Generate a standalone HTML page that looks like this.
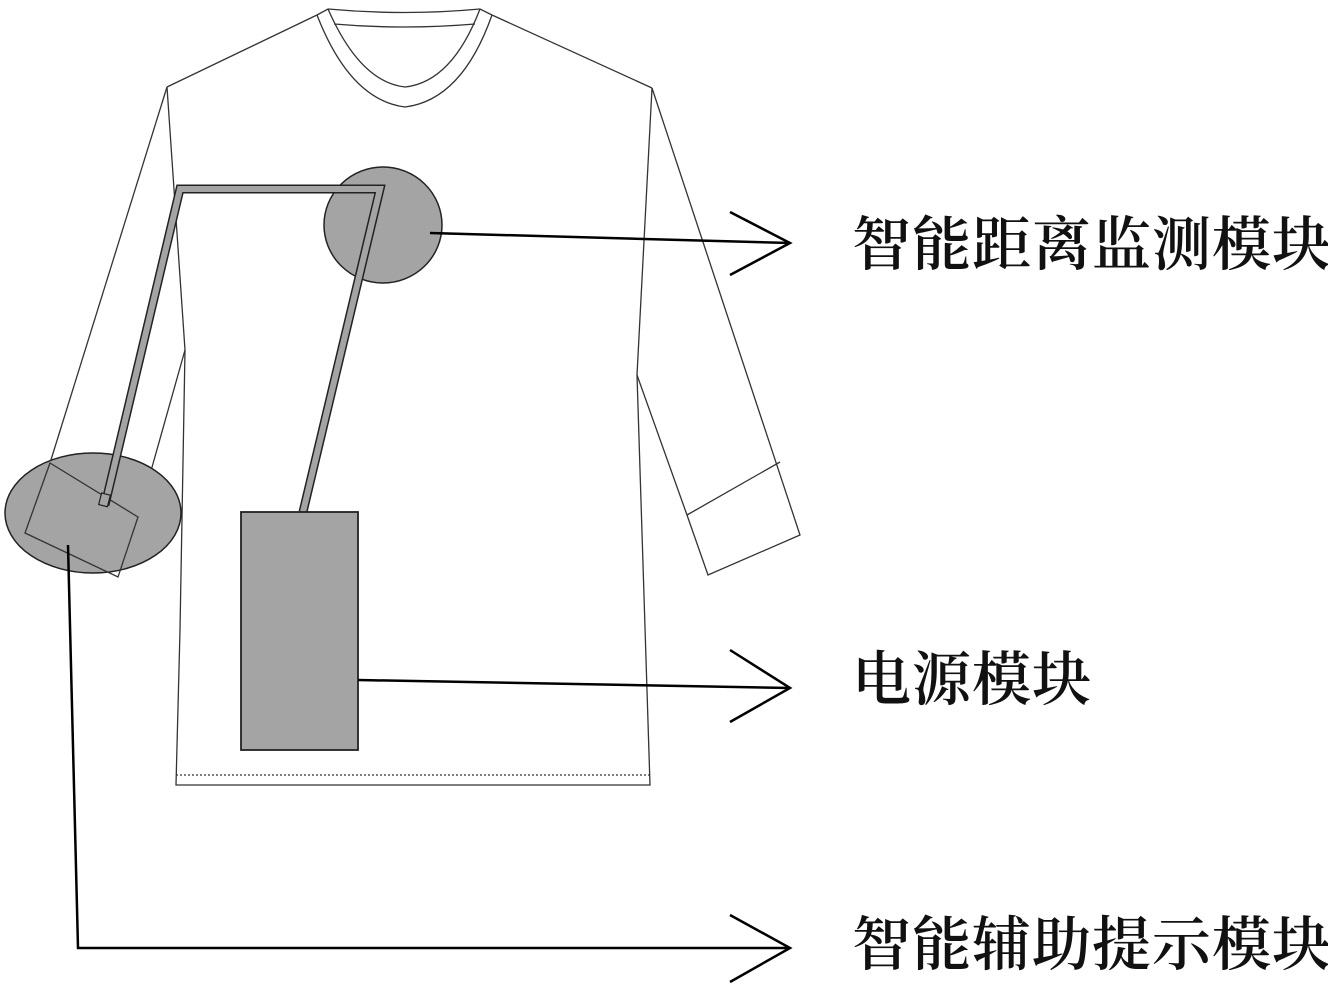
<!DOCTYPE html>
<html><head><meta charset="utf-8"><style>
body{margin:0;background:#fff;width:1328px;height:990px;overflow:hidden;position:relative}
.t{position:absolute;left:852px;font-family:"Liberation Serif","Noto Serif CJK SC",serif;font-size:59px;letter-spacing:1px;line-height:58px;color:#111;white-space:nowrap;font-weight:600}
</style></head><body>
<svg width="1328" height="990" style="position:absolute;left:0;top:0">
<g fill="none" stroke="#333" stroke-width="1.3">
<path d="M317 15 L328 9 Q404 16 480 9 L492 15"/>
<path d="M317 15 Q350 100 405 107 Q462 100 492 15"/>
<path d="M328 9 Q360 82 405 87 Q452 82 480 9"/>
<path d="M334 24 Q404 30 475 24"/>
<path d="M317 15 L167 87"/>
<path d="M492 15 L652 88"/>
<path d="M167 87 L185 350 L180 630 L176 785 L650 785 L637 375 L652 88"/>
<path d="M176 775 L650 775" stroke-dasharray="2 2"/>
<path d="M167 87 L50 463"/>
<path d="M185 350 L138 517"/>
<path d="M652 88 L800 535 L708 575 L687 515 L637 375"/>
<path d="M687 515 L780 462"/>
</g>
<ellipse cx="93" cy="513" rx="88" ry="60" fill="#a4a4a4" stroke="#222" stroke-width="1.5"/>
<path d="M50 463 L138 517 L118 577 L25 533 Z" fill="none" stroke="#333" stroke-width="1.3"/>
<ellipse cx="383" cy="225" rx="59" ry="58" fill="#a4a4a4" stroke="#222" stroke-width="1.5"/>
<path d="M105 505 L180 189 L380 189 L303 512" fill="none" stroke="#222" stroke-width="9" stroke-linejoin="miter"/>
<path d="M105 505 L180 189 L380 189 L303 512" fill="none" stroke="#a4a4a4" stroke-width="6" stroke-linejoin="miter"/>
<rect x="100" y="494" width="9" height="12" fill="#a4a4a4" stroke="#222" stroke-width="1.2" transform="rotate(14 105 500)"/>
<rect x="241" y="512" width="117" height="238" fill="#a4a4a4" stroke="#222" stroke-width="1.8"/>
<g fill="none" stroke="#000" stroke-width="2.5">
<path d="M430 233 L790 243"/>
<path d="M730 212 L790 243 L730 275"/>
<path d="M358 680 L790 688"/>
<path d="M730 650 L790 688 L730 722"/>
<path d="M68 545 L78 948 L790 948"/>
<path d="M730 915 L790 948 L730 982"/>
</g>
</svg>
<div class="t" style="top:216px">智能距离监测模块</div>
<div class="t" style="top:651px">电源模块</div>
<div class="t" style="top:916px">智能辅助提示模块</div>
</body></html>
